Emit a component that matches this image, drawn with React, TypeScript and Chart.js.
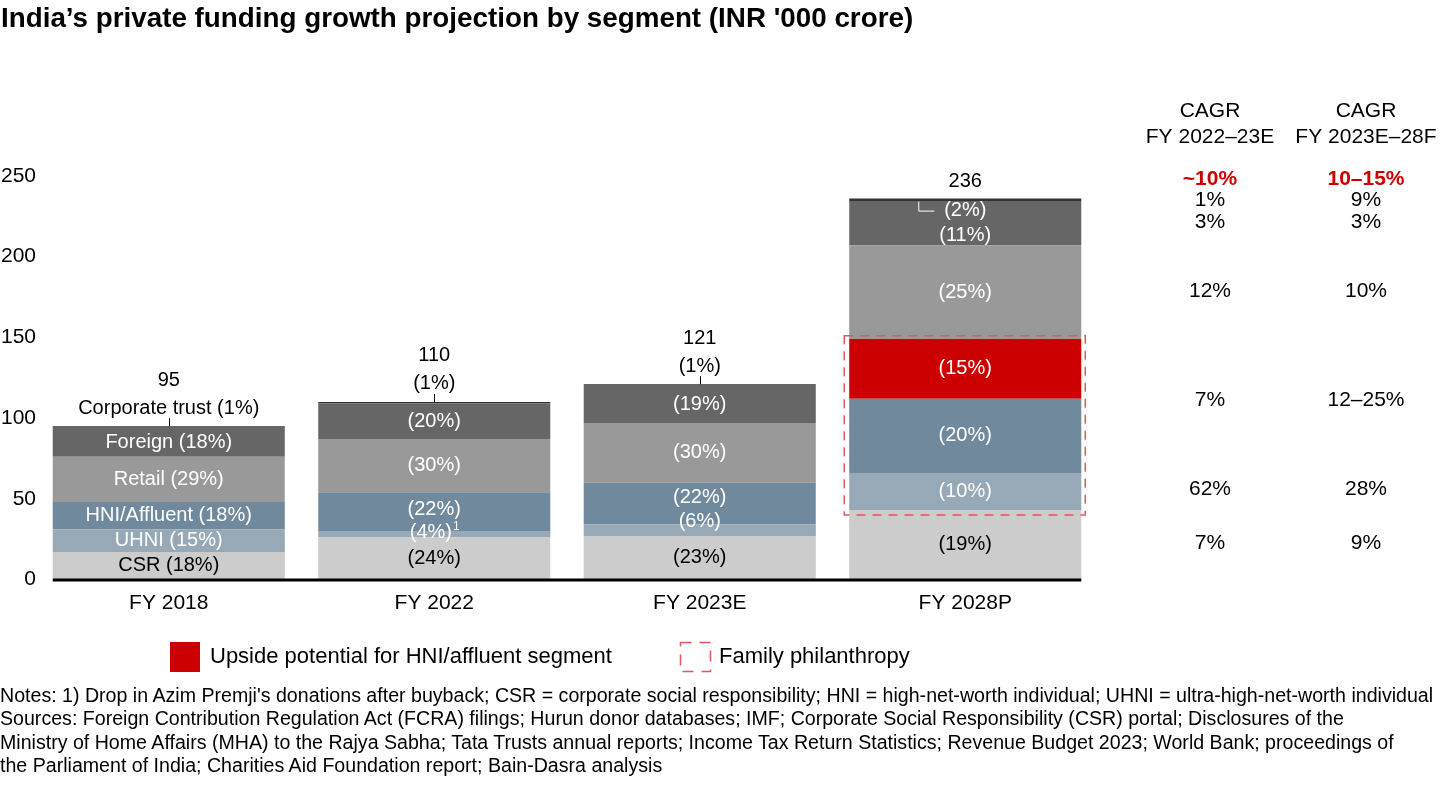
import React, { useEffect, useRef } from "react";
import { Chart, registerables } from "chart.js";

Chart.register(...registerables);

// ---------- data ----------
const categories = ["FY 2018", "FY 2022", "FY 2023E", "FY 2028P"];
const totals = [95, 110, 121, 236];
const csr = [17, 26, 27, 43];
const uhni = [14, 4, 7, 23];
const hni = [17, 24, 26, 46];
const upside = [null, null, null, 37];
const retail = [28, 33, 37, 58];
const foreign = [18, 22, 23, 27];
const corporateTrust = [1, 1, 1, 2];

const csrLabels = ["CSR (18%)", "(24%)", "(23%)", "(19%)"];
const uhniLabels = ["UHNI (15%)", "(4%)", "(6%)", "(10%)"];
const uhniFootnotes = ["", "1", "", ""];
const hniLabels = ["HNI/Affluent (18%)", "(22%)", "(22%)", "(20%)"];
const upsideLabels = ["", "", "", "(15%)"];
const retailLabels = ["Retail (29%)", "(30%)", "(30%)", "(25%)"];
const foreignLabels = ["Foreign (18%)", "(20%)", "(19%)", "(11%)"];
const corporateTrustLabels = ["Corporate trust (1%)", "(1%)", "(1%)", "(2%)"];

const yTickValues = [0, 50, 100, 150, 200, 250];
const familyPhilanthropyRange = [40, 151];

const cagrHeader1 = ["CAGR", "FY 2022–23E"];
const cagrHeader2 = ["CAGR", "FY 2023E–28F"];
const cagr2223 = ["~10%", "1%", "3%", "12%", "7%", "62%", "7%"];
const cagr2328 = ["10–15%", "9%", "3%", "10%", "12–25%", "28%", "9%"];

const legendLabels = ["Upside potential for HNI/affluent segment", "Family philanthropy"];

const titleText = "India’s private funding growth projection by segment (INR '000 crore)";
const notesLines = [
  "Notes: 1) Drop in Azim Premji's donations after buyback; CSR = corporate social responsibility; HNI = high-net-worth individual; UHNI = ultra-high-net-worth individual",
  "Sources: Foreign Contribution Regulation Act (FCRA) filings; Hurun donor databases; IMF; Corporate Social Responsibility (CSR) portal; Disclosures of the",
  "Ministry of Home Affairs (MHA) to the Rajya Sabha; Tata Trusts annual reports; Income Tax Return Statistics; Revenue Budget 2023; World Bank; proceedings of",
  "the Parliament of India; Charities Aid Foundation report; Bain-Dasra analysis",
];

// ---------- styles ----------
const FONT = "'Liberation Sans', Arial, Helvetica, sans-serif";
const RED = "#CC0000";
const DASH_RED = "#E0575C";

const series = [
  { name: "CSR", data: csr, color: "#CCCCCC", labels: csrLabels, textColor: "#000000", dy: [0, 0, 0, 0] },
  { name: "UHNI", data: uhni, color: "#97A8B6", labels: uhniLabels, textColor: "#FFFFFF", dy: [0, -2, -9, 0] },
  { name: "HNI/Affluent", data: hni, color: "#71899C", labels: hniLabels, textColor: "#FFFFFF", dy: [0, -2, -6, 0] },
  { name: "Upside potential", data: upside, color: RED, labels: upsideLabels, textColor: "#FFFFFF", dy: [0, 0, 0, 0] },
  { name: "Retail", data: retail, color: "#999999", labels: retailLabels, textColor: "#FFFFFF", dy: [0, 0, 0, 0] },
  { name: "Foreign", data: foreign, color: "#666666", labels: foreignLabels, textColor: "#FFFFFF", dy: [0, 0, 0, 12] },
  { name: "Corporate trust", data: corporateTrust, color: "#333333", labels: corporateTrustLabels, textColor: "#000000", dy: [0, 0, 0, 0] },
];
const CORP_INDEX = 6;
const corpLabelInside = [false, false, false, true];
const cagrRowY = [179, 200, 222, 291, 400, 489, 543];
const cagrColX = [1210, 1366];

const overlayPlugin = {
  id: "overlay",
  afterDatasetsDraw(chart: any) {
    const { ctx, chartArea, scales } = chart;
    const yScale = scales.y;
    ctx.save();
    ctx.textAlign = "center";
    ctx.textBaseline = "middle";
    ctx.font = `20px ${FONT}`;

    // segment labels
    series.forEach((s, di) => {
      if (di === CORP_INDEX) return;
      const meta = chart.getDatasetMeta(di);
      meta.data.forEach((bar: any, j: number) => {
        const txt = s.labels[j];
        if (!txt || s.data[j] == null) return;
        const cy = (bar.y + bar.base) / 2 + s.dy[j];
        ctx.fillStyle = s.textColor;
        if (di === 1 && uhniFootnotes[j]) {
          ctx.font = `12px ${FONT}`;
          const sw = ctx.measureText(uhniFootnotes[j]).width;
          ctx.font = `20px ${FONT}`;
          const w = ctx.measureText(txt).width;
          const cx = bar.x - sw / 2;
          ctx.fillText(txt, cx, cy);
          ctx.font = `12px ${FONT}`;
          ctx.textAlign = "left";
          ctx.fillText(uhniFootnotes[j], cx + w / 2 + 1, cy - 6);
          ctx.textAlign = "center";
          ctx.font = `20px ${FONT}`;
        } else {
          ctx.fillText(txt, bar.x, cy);
        }
      });
    });

    // family philanthropy dashed box
    const lastMeta = chart.getDatasetMeta(0);
    const lastBar: any = lastMeta.data[lastMeta.data.length - 1];
    const bw = lastBar.width;
    const bx0 = lastBar.x - bw / 2 - 5;
    const bx1 = lastBar.x + bw / 2 + 4;
    const by0 = yScale.getPixelForValue(familyPhilanthropyRange[1]);
    const by1 = yScale.getPixelForValue(familyPhilanthropyRange[0]);
    ctx.strokeStyle = DASH_RED;
    ctx.lineWidth = 1.5;
    ctx.setLineDash([9, 7]);
    ctx.strokeRect(bx0, by0, bx1 - bx0, by1 - by0);
    ctx.setLineDash([]);

    // corporate trust labels & totals
    const corpMeta = chart.getDatasetMeta(CORP_INDEX);
    corpMeta.data.forEach((bar: any, j: number) => {
      const top = bar.y;
      const cx = bar.x;
      ctx.font = `20px ${FONT}`;
      if (corpLabelInside[j]) {
        ctx.fillStyle = "#FFFFFF";
        ctx.fillText(corporateTrustLabels[j], cx, top + 12);
        ctx.strokeStyle = "#FFFFFF";
        ctx.lineWidth = 1;
        ctx.beginPath();
        ctx.moveTo(cx - 46.5, top + 3);
        ctx.lineTo(cx - 46.5, top + 12.5);
        ctx.lineTo(cx - 31, top + 12.5);
        ctx.stroke();
        ctx.fillStyle = "#000000";
        ctx.fillText(String(totals[j]), cx, top - 17);
      } else {
        ctx.fillStyle = "#000000";
        ctx.fillText(corporateTrustLabels[j], cx, top - 18);
        ctx.strokeStyle = "#000000";
        ctx.lineWidth = 1;
        ctx.beginPath();
        ctx.moveTo(Math.round(cx) + 0.5, top - 8);
        ctx.lineTo(Math.round(cx) + 0.5, top);
        ctx.stroke();
        ctx.fillText(String(totals[j]), cx, top - 46);
      }
    });

    // baseline
    const firstBar: any = lastMeta.data[0];
    const lx0 = firstBar.x - firstBar.width / 2;
    const lx1 = lastBar.x + lastBar.width / 2;
    ctx.fillStyle = "#000000";
    ctx.fillRect(lx0, chartArea.bottom - 1, lx1 - lx0, 3);
    ctx.restore();
  },
  afterDraw(chart: any) {
    const { ctx } = chart;
    ctx.save();
    ctx.textAlign = "center";
    ctx.textBaseline = "middle";
    // CAGR columns
    ctx.fillStyle = "#000000";
    ctx.font = `21px ${FONT}`;
    [cagrHeader1, cagrHeader2].forEach((h, c) => {
      ctx.fillText(h[0], cagrColX[c], 111);
      ctx.fillText(h[1], cagrColX[c], 137);
    });
    [cagr2223, cagr2328].forEach((col, c) => {
      col.forEach((v, r) => {
        if (r === 0) {
          ctx.font = `bold 21px ${FONT}`;
          ctx.fillStyle = RED;
        } else {
          ctx.font = `21px ${FONT}`;
          ctx.fillStyle = "#000000";
        }
        ctx.fillText(v, cagrColX[c], cagrRowY[r]);
      });
    });
    // legend
    ctx.fillStyle = RED;
    ctx.fillRect(170, 642, 30, 30);
    ctx.strokeStyle = DASH_RED;
    ctx.lineWidth = 1.5;
    ctx.setLineDash([11, 8]);
    ctx.strokeRect(680.5, 642.5, 30, 29);
    ctx.setLineDash([]);
    ctx.fillStyle = "#000000";
    ctx.font = `22px ${FONT}`;
    ctx.textAlign = "left";
    ctx.fillText(legendLabels[0], 210, 657);
    ctx.fillText(legendLabels[1], 719, 657);
    ctx.restore();
  },
};

export default function App() {
  const canvasRef = useRef<HTMLCanvasElement | null>(null);

  useEffect(() => {
    document.body.style.margin = "0";
    const canvas = canvasRef.current;
    if (!canvas) return;
    const chart = new Chart(canvas, {
      type: "bar",
      data: {
        labels: categories,
        datasets: series.map((s) => ({
          label: s.name,
          data: s.data as any,
          backgroundColor: s.color,
          borderWidth: 0,
          categoryPercentage: 1,
          barPercentage: 0.874,
        })),
      },
      options: {
        responsive: false,
        animation: false,
        devicePixelRatio: 1,
        layout: { padding: { top: 176, right: 342, left: 0, bottom: 810 - 579.5 - 40 } },
        plugins: {
          legend: { display: false },
          tooltip: { enabled: false },
          title: { display: false },
        },
        scales: {
          x: {
            stacked: true,
            grid: { display: false, drawTicks: false },
            border: { display: false },
            ticks: { color: "#000000", font: { family: FONT, size: 21 }, padding: 11 },
            afterFit: (scale: any) => {
              scale.height = 40;
            },
          },
          y: {
            stacked: true,
            min: 0,
            max: 250,
            grid: { display: false, drawTicks: false },
            border: { display: false },
            afterBuildTicks: (scale: any) => {
              scale.ticks = yTickValues.map((v) => ({ value: v }));
            },
            ticks: { color: "#000000", font: { family: FONT, size: 21 }, padding: 0 },
            afterFit: (scale: any) => {
              scale.width = 36;
            },
          },
        },
      },
      plugins: [overlayPlugin],
    });
    return () => chart.destroy();
  }, []);

  return (
    <div style={{ position: "relative", width: 1440, height: 810, overflow: "hidden", background: "#FFFFFF" }}>
      <canvas ref={canvasRef} width={1440} height={810} style={{ position: "absolute", left: 0, top: 0, width: 1440, height: 810 }} />
      <div
        style={{
          position: "absolute",
          left: 1,
          top: 2,
          fontFamily: FONT,
          fontWeight: "bold",
          fontSize: 27.8,
          lineHeight: "32px",
          color: "#000000",
          whiteSpace: "nowrap",
        }}
      >
        {titleText}
      </div>
      <div
        style={{
          position: "absolute",
          left: 0,
          top: 684,
          fontFamily: FONT,
          fontSize: 19.6,
          lineHeight: "23.3px",
          color: "#000000",
          whiteSpace: "nowrap",
        }}
      >
        {notesLines.map((l, i) => (
          <div key={i}>{l}</div>
        ))}
      </div>
    </div>
  );
}
